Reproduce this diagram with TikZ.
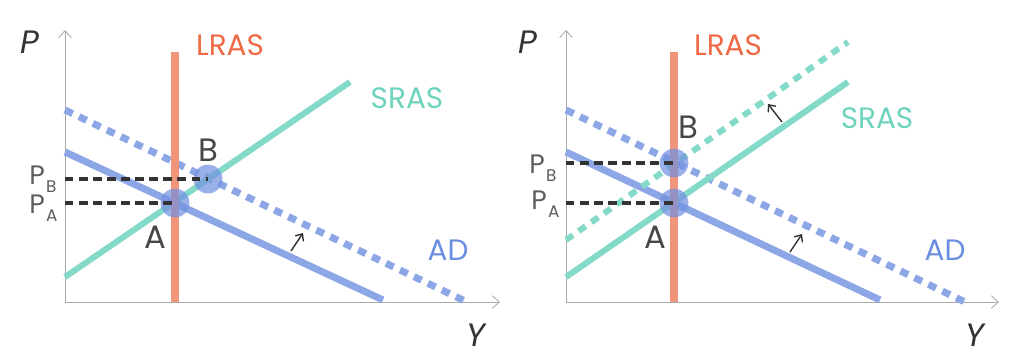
\documentclass[tikz,border=0pt]{standalone}
\usepackage{fontspec}
\setmainfont{Poppins}
\usetikzlibrary{arrows.meta}
\definecolor{lrasOrange}{HTML}{F0957A}
\definecolor{lrasText}{HTML}{EE6A45}
\definecolor{srasTeal}{HTML}{84DAC8}
\definecolor{srasText}{HTML}{6ED3BD}
\definecolor{adBlue}{HTML}{8DA7E6}
\definecolor{adText}{HTML}{6A8EE0}
\definecolor{dotBlue}{HTML}{7391E0}
\definecolor{axisGray}{HTML}{AAAAAA}
\definecolor{inkDark}{HTML}{333333}

\tikzset{
  axisline/.style={draw=axisGray, line width=0.6pt, -{Straight Barb[length=5pt,width=9pt]}},
  lrasline/.style={draw=lrasOrange, line width=5pt},
  srasline/.style={draw=srasTeal, line width=4.3pt},
  adline/.style={draw=adBlue, line width=5pt},
  shifted/.style={dash pattern=on 6pt off 5pt},
  guide/.style={draw=inkDark, line width=2.8pt, dash pattern=on 6pt off 4pt},
  eqpt/.style={circle, fill=dotBlue, fill opacity=0.72, minimum size=0.72cm, inner sep=0pt},
  shiftarrow/.style={draw=inkDark, line width=1pt, -{Straight Barb[length=4pt,width=7pt]}},
  curvelbl/.style={font=\fontsize{21}{21}\selectfont},
  ptlbl/.style={font=\fontsize{23}{23}\selectfont, text=inkDark!90},
  pricelbl/.style={anchor=base west, inner sep=0pt, font=\fontsize{19}{19}\selectfont, text=inkDark!80},
  axislbl/.style={font=\fontsize{23}{23}\selectfont\itshape, text=inkDark},
}
\newcommand{\pricesub}[1]{P\raisebox{-6pt}{\fontsize{12}{12}\selectfont\kern1pt#1}}

\begin{document}
\begin{tikzpicture}[x=0.025cm, y=-0.025cm]
  \useasboundingbox (0,0) rectangle (1024,358);

  % ---- left panel: AD shifts right ----
  \coordinate (o1) at (65,302);
  \coordinate (ytop1) at (65,30);
  \coordinate (xend1) at (500,302);
  \draw[axisline] (o1) -- (ytop1);
  \draw[axisline] (o1) -- (xend1);
  \node[axislbl] (p1) at (30,42) {P};
  \node[axislbl] (y1) at (476,335) {Y};

  % curves
  \coordinate (adNewL1) at (65,110);   \coordinate (adNewR1) at (467,302);
  \coordinate (adL1) at (65,152);      \coordinate (adR1) at (383,300);
  \coordinate (srasL1) at (65,277);    \coordinate (srasR1) at (350,82);
  \coordinate (lrasT1) at (175,52);    \coordinate (lrasB1) at (175,302);
  \draw[adline, shifted] (adNewL1) -- (adNewR1);
  \draw[adline] (adL1) -- (adR1);
  \draw[srasline] (srasL1) -- (srasR1);
  \draw[lrasline] (lrasT1) -- (lrasB1);

  % equilibria
  \coordinate (pa1) at (65,203);
  \coordinate (pb1) at (65,179);
  \node[eqpt] (ptA1) at (175,203) {};
  \node[eqpt] (ptB1) at (208,179) {};
  \draw[guide] (pa1) -- (ptA1.center);
  \draw[guide] (pb1) -- (ptB1.center);

  % shift arrow
  \coordinate (adArrS1) at (291,251);  \coordinate (adArrE1) at (303,233);
  \draw[shiftarrow] (adArrS1) -- (adArrE1);

  % labels
  \node[curvelbl, text=lrasText] (lrasLbl1) at (230,45) {LRAS};
  \node[curvelbl, text=srasText] (srasLbl1) at (407,98) {SRAS};
  \node[curvelbl, text=adText] (adLbl1) at (448,250) {AD};
  \node[ptlbl] (aLbl1) at (155,237) {A};
  \node[ptlbl] (bLbl1) at (208,150) {B};
  \node[pricelbl] (pbLbl1) at (29,184) {\pricesub{B}};
  \node[pricelbl] (paLbl1) at (29,213) {\pricesub{A}};

  % ---- right panel: AD and SRAS both shift ----
  \coordinate (o2) at (566,302);
  \coordinate (ytop2) at (566,30);
  \coordinate (xend2) at (999,302);
  \draw[axisline] (o2) -- (ytop2);
  \draw[axisline] (o2) -- (xend2);
  \node[axislbl] (p2) at (528,42) {P};
  \node[axislbl] (y2) at (975,335) {Y};

  % curves
  \coordinate (adNewL2) at (566,110);  \coordinate (adNewR2) at (965,302);
  \coordinate (adL2) at (566,152);     \coordinate (adR2) at (880,300);
  \coordinate (srasNewL2) at (566,240); \coordinate (srasNewR2) at (848,42);
  \coordinate (srasL2) at (566,277);   \coordinate (srasR2) at (848,82);
  \coordinate (lrasT2) at (674,52);    \coordinate (lrasB2) at (674,302);
  \draw[adline, shifted] (adNewL2) -- (adNewR2);
  \draw[adline] (adL2) -- (adR2);
  \draw[srasline, shifted] (srasNewL2) -- (srasNewR2);
  \draw[srasline] (srasL2) -- (srasR2);
  \draw[lrasline] (lrasT2) -- (lrasB2);

  % equilibria
  \coordinate (pa2) at (566,203);
  \coordinate (pb2) at (566,163);
  \node[eqpt] (ptA2) at (674,203) {};
  \node[eqpt] (ptB2) at (674,163) {};
  \draw[guide] (pa2) -- (ptA2.center);
  \draw[guide] (pb2) -- (ptB2.center);

  % shift arrows
  \coordinate (srasArrS2) at (782,122); \coordinate (srasArrE2) at (768,104);
  \coordinate (adArrS2) at (790,252);   \coordinate (adArrE2) at (802,234);
  \draw[shiftarrow] (srasArrS2) -- (srasArrE2);
  \draw[shiftarrow] (adArrS2) -- (adArrE2);

  % labels
  \node[curvelbl, text=lrasText] (lrasLbl2) at (728,45) {LRAS};
  \node[curvelbl, text=srasText] (srasLbl2) at (877,118) {SRAS};
  \node[curvelbl, text=adText] (adLbl2) at (945,250) {AD};
  \node[ptlbl] (aLbl2) at (655,237) {A};
  \node[ptlbl] (bLbl2) at (688,127) {B};
  \node[pricelbl] (pbLbl2) at (529,173) {\pricesub{B}};
  \node[pricelbl] (paLbl2) at (531,209) {\pricesub{A}};
\end{tikzpicture}
\end{document}
